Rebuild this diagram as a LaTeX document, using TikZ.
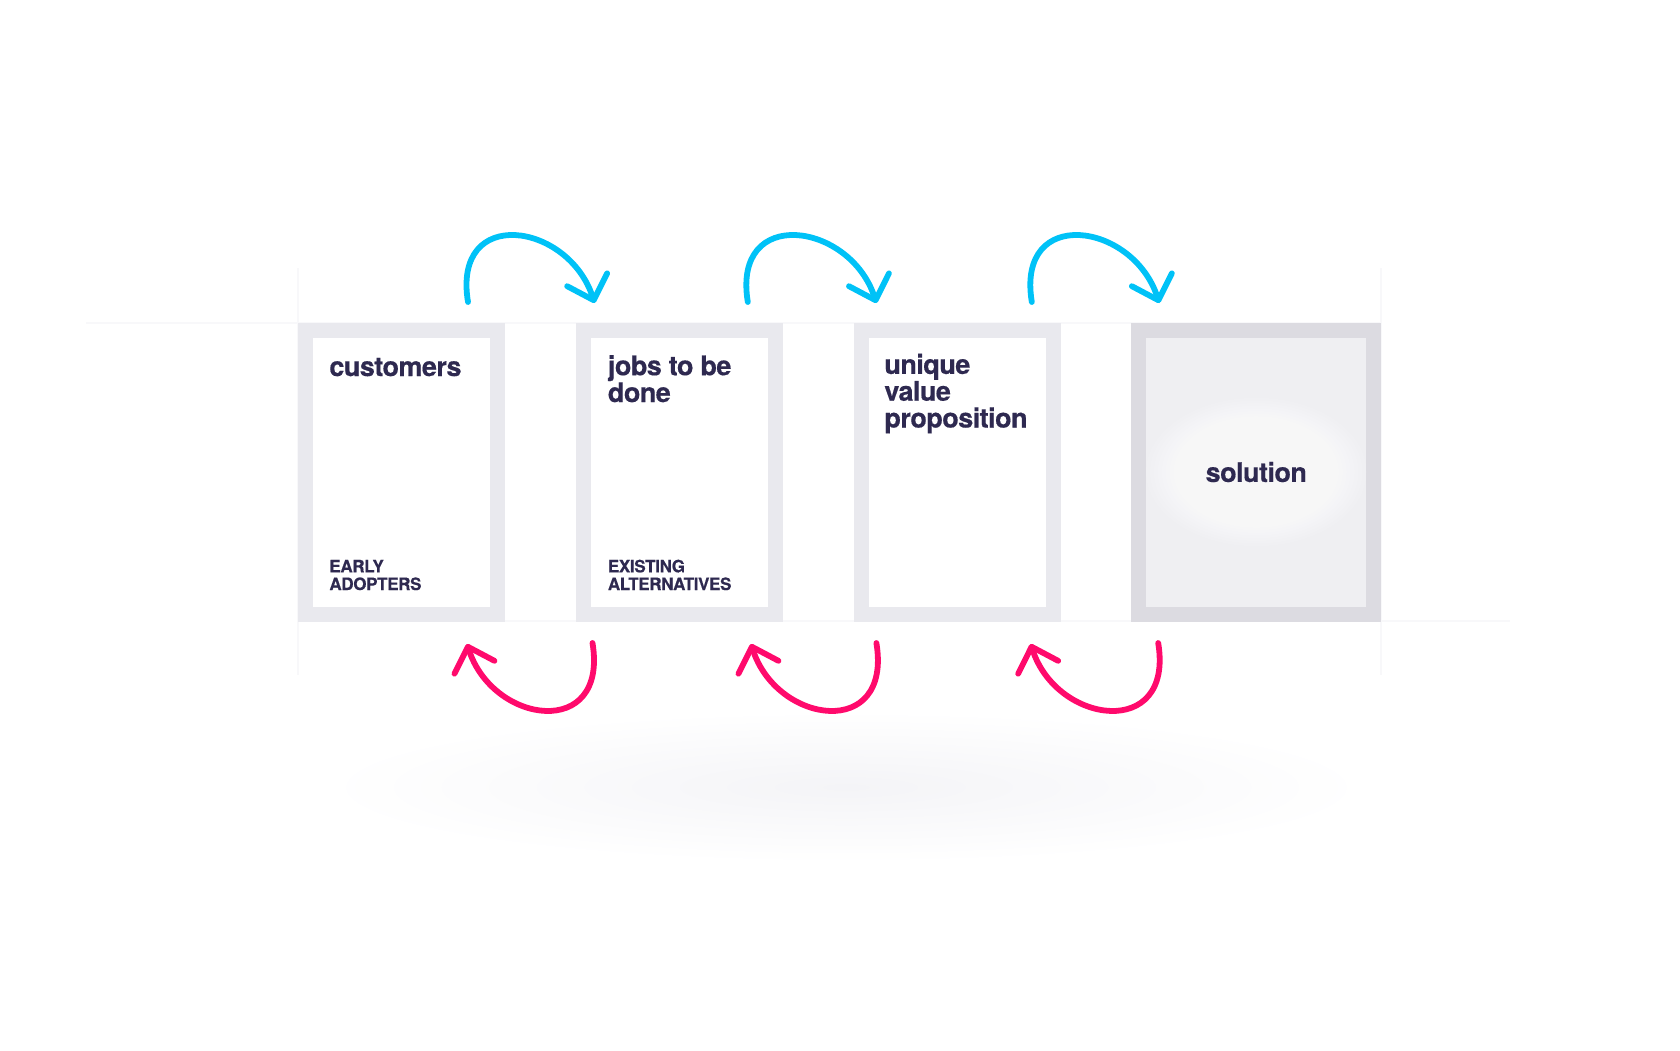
\documentclass[tikz,border=0pt]{standalone}
\usepackage{fontspec}
\setmainfont{TeX Gyre Heros}
\usetikzlibrary{positioning, arrows.meta, calc}
\definecolor{cardInk}{HTML}{2E2950}
\definecolor{cardEdge}{HTML}{E9E9EE}
\definecolor{solEdge}{HTML}{DCDBE1}
\definecolor{solFill}{HTML}{EFEFF2}
\definecolor{loopBlue}{HTML}{00C2F7}
\definecolor{loopPink}{HTML}{FF0A6C}
\definecolor{guideGray}{HTML}{F8F8FA}
\definecolor{shadowGray}{HTML}{F4F4F7}

\begin{document}
\begin{tikzpicture}[x=0.5pt, y=-0.5pt,
  card/.style={draw=cardEdge, line width=7.5pt, fill=white, inner sep=0pt,
               minimum width=95.85pt, minimum height=142pt},
  solcard/.style={card, draw=solEdge, fill=solFill, minimum width=117.35pt},
  head/.style={anchor=base west, inner sep=0pt, align=left, text=cardInk,
               font=\fontsize{13.5}{13.4}\selectfont\bfseries\addfontfeature{LetterSpace=-2,FakeBold=0.4}},
  sub/.style={anchor=base west, inner sep=0pt, align=left, text=cardInk,
              font=\fontsize{8.5}{8.85}\selectfont\bfseries\addfontfeature{LetterSpace=-2,FakeBold=0.3}},
  glow/.style={white, fill opacity=0.12},
  fwd/.style={loopBlue, line width=2.9pt, line cap=round,
              -{Straight Barb[length=10.75pt, width=21pt, round]}},
  bwd/.style={fwd, loopPink},
  guide/.style={guideGray, line width=1pt}
]
\useasboundingbox (0,0) rectangle (1680,1050);

% faint guides and floor shadow
\draw[guide] (86,322.5) -- (1381,322.5);
\draw[guide] (298,621.4) -- (1510,621.4);
\draw[guide] (297.9,268) -- (297.9,675);
\draw[guide] (1381.1,268) -- (1381.1,675);
\shade[inner color=shadowGray, outer color=white] (846,787) ellipse [x radius=262pt, y radius=38pt];

% the four cards
\node[card] (cust) at (401.25,472) {};
\node[card] (jobs) at (679.8,472) {};
\node[card] (uvp) at (957.3,472) {};
\node[solcard] (sol) at (1256.25,472) {};
\foreach \k in {0,...,23}
  \fill[glow] (sol.center) ellipse [x radius={55pt-1.95pt*\k}, y radius={37pt-1.3pt*\k}];

% multi-line nodes sit on the baseline of their last line
\node[head] (custT) at (329,376) {customers};
\node[sub] (custS) at (329,590) {EARLY\\ADOPTERS};
\node[head] (jobsT) at (607.5,402) {jobs to be\\done};
\node[sub] (jobsS) at (607.5,590) {EXISTING\\ALTERNATIVES};
\node[head] (uvpT) at (884,427.5) {unique\\value\\proposition};
\node[head, anchor=center] (solT) at (sol.center) {solution};

% loops above (forward) and below (back)
\coordinate (f1s) at (468,302);    \coordinate (f1e) at (594.6,303);
\coordinate (f2s) at (747.8,302);  \coordinate (f2e) at (876.4,303);
\coordinate (f3s) at (1031.8,302); \coordinate (f3e) at (1159.3,303);
\coordinate (b1s) at (592.5,643);  \coordinate (b1e) at (467,644);
\coordinate (b2s) at (876.4,643);  \coordinate (b2e) at (751,644);
\coordinate (b3s) at (1158.2,643); \coordinate (b3e) at (1030.7,644);

\draw[fwd] (f1s) .. controls +(-16,-97) and +(-26,-81) .. (f1e);
\draw[fwd] (f2s) .. controls +(-16,-97) and +(-26,-81) .. (f2e);
\draw[fwd] (f3s) .. controls +(-16,-97) and +(-26,-81) .. (f3e);
\draw[bwd] (b1s) .. controls +(16,97) and +(26,81) .. (b1e);
\draw[bwd] (b2s) .. controls +(16,97) and +(26,81) .. (b2e);
\draw[bwd] (b3s) .. controls +(16,97) and +(26,81) .. (b3e);
\end{tikzpicture}
\end{document}
